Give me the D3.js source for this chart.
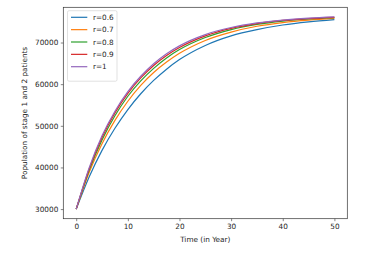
<!DOCTYPE html>
<html>
<head>
<meta charset="utf-8">
<script src="https://cdn.jsdelivr.net/npm/d3@7"></script>
<style>
    body{margin:0;background:#fff;}
    text{font-family:"DejaVu Sans",sans-serif;fill:#262626;}
</style>
</head>
<body>
<svg id="plot"></svg>
<script>
//Time points (years)
const years = [0,2.5,5,7.5,10,12.5,15,17.5,20,25,30,35,40,45,50];

//Population of stage 1 and 2 patients for every r value
const r06 = [30000,37700,44100,49400,53900,57700,60900,63600,65900,69300,71600,73100,74200,74950,75500];
const r07 = [30000,38800,45700,51300,55900,59700,62800,65300,67400,70500,72500,73900,74800,75400,75800];
const r08 = [30000,39300,46600,52400,57100,60800,63800,66300,68300,71200,73100,74350,75150,75650,75950];
const r09 = [30000,39600,47200,53100,57800,61500,64500,66900,68800,71600,73400,74550,75300,75750,76050];
const r1  = [30000,39900,47600,53500,58200,61900,64900,67300,69200,71900,73600,74700,75400,75850,76150];

const seriesNames = ["r=0.6","r=0.7","r=0.8","r=0.9","r=1"];
const seriesData = [r06,r07,r08,r09,r1];
const colors = ["#1f77b4","#ff7f0e","#2ca02c","#d62728","#9467bd"];

const xTicks = [0,10,20,30,40,50];
const yTicks = [30000,40000,50000,60000,70000];

//Size of the svg and the plot area
const width = 368;
const height = 253;
const plotLeft = 63.3, plotRight = 347.3, plotTop = 7.3, plotBottom = 218.7;

var svg = d3.select("#plot")
    .attr("width",width)
    .attr("height",height);

//Scales with matplotlib style 5% margins
var x = d3.scaleLinear().domain([-2.5,52.5]).range([plotLeft,plotRight]);
var yMin = d3.min(seriesData,(s)=>d3.min(s));
var yMax = d3.max(seriesData,(s)=>d3.max(s));
var pad = (yMax-yMin)*0.05;
var y = d3.scaleLinear().domain([yMin-pad,yMax+pad]).range([plotBottom,plotTop]);

//Lines
var line = d3.line()
    .x((d,i)=>x(years[i]))
    .y((d)=>y(d))
    .curve(d3.curveMonotoneX);

svg.selectAll(".series")
    .data(seriesData)
    .enter()
    .append("path")
    .attr("d",line)
    .attr("fill","none")
    .attr("stroke",(d,i)=>colors[i])
    .attr("stroke-width",1.2);

//Axes
var xAxis = d3.axisBottom(x).tickValues(xTicks).tickSize(2.5).tickPadding(2.5);
var yAxis = d3.axisLeft(y).tickValues(yTicks).tickSize(2.5).tickPadding(2.5).tickFormat(d3.format("d"));

var gx = svg.append("g")
    .attr("transform","translate(0,"+plotBottom+")")
    .call(xAxis);
var gy = svg.append("g")
    .attr("transform","translate("+plotLeft+",0)")
    .call(yAxis);

[gx,gy].forEach(function(g){
    g.select(".domain").remove();
    g.selectAll(".tick line").attr("stroke","#333").attr("stroke-width",0.6);
    g.selectAll(".tick text").style("font-size","7.3px").style("fill","#262626");
});

//Frame round the plot area
svg.append("rect")
    .attr("x",plotLeft)
    .attr("y",plotTop)
    .attr("width",plotRight-plotLeft)
    .attr("height",plotBottom-plotTop)
    .attr("fill","none")
    .attr("stroke","#333")
    .attr("stroke-width",0.7);

//Axis labels
svg.append("text")
    .attr("x",(plotLeft+plotRight)/2)
    .attr("y",242)
    .attr("text-anchor","middle")
    .style("font-size","7.3px")
    .text("Time (in Year)");

svg.append("text")
    .attr("transform","translate(27,"+((plotTop+plotBottom)/2)+") rotate(-90)")
    .attr("text-anchor","middle")
    .style("font-size","7.3px")
    .text("Population of stage 1 and 2 patients");

//Legend
var legend = svg.append("g");
legend.append("rect")
    .attr("x",67.5)
    .attr("y",10.7)
    .attr("width",49.5)
    .attr("height",70.5)
    .attr("rx",1.5)
    .attr("fill","#fff")
    .attr("fill-opacity",0.8)
    .attr("stroke","#ccc")
    .attr("stroke-width",0.6);

var entries = legend.selectAll(".entry")
    .data(seriesNames)
    .enter()
    .append("g")
    .attr("transform",(d,i)=>"translate(0,"+(17.3+i*12.35)+")");

entries.append("line")
    .attr("x1",71)
    .attr("x2",87.3)
    .attr("stroke",(d,i)=>colors[i])
    .attr("stroke-width",1.2);

entries.append("text")
    .attr("x",93)
    .attr("dy","0.35em")
    .style("font-size","7.3px")
    .text((d)=>d);
</script>
</body>
</html>
